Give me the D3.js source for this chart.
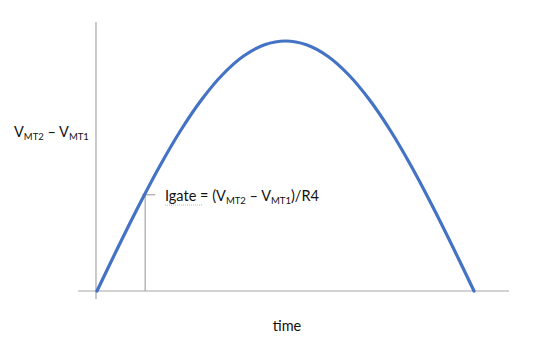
<!DOCTYPE html>
<html><head><meta charset="utf-8">
<script src="https://cdn.jsdelivr.net/npm/d3@7"></script>
<style>body{margin:0;background:#fff}svg{display:block}text{font-family:Lato,"Open Sans",sans-serif;fill:#111}</style>
</head><body><svg id="c" width="540" height="354"></svg>
<script>
// Data: time (phase, degrees) and V_MT2 - V_MT1 (relative)
const times  = [0,10,20,30,40,50,60,70,80,90,100,110,120,130,140,150,160,170,180];
const values = [0,0.174,0.342,0.5,0.643,0.766,0.866,0.94,0.985,1,0.985,0.94,0.866,0.766,0.643,0.5,0.342,0.174,0];
const markerTime = 23, markerValue = 0.385;
const yLabel = ["V","MT2"," – V","MT1"];
const xLabel = "time";

const svg = d3.select("#c");
const x = d3.scaleLinear().domain([0,180]).range([97,474]);
const y = d3.scaleLinear().domain([0,1]).range([291,41]);
const axisColor = "#a6a6a6";

// axes
svg.append("line").attr("x1",96).attr("x2",96).attr("y1",22).attr("y2",299).attr("stroke",axisColor).attr("stroke-width",1.2);
svg.append("line").attr("x1",78).attr("x2",509).attr("y1",291).attr("y2",291).attr("stroke",axisColor).attr("stroke-width",1.2);

// marker
svg.append("line").attr("x1",x(markerTime)).attr("x2",x(markerTime)).attr("y1",y(0)).attr("y2",y(markerValue)).attr("stroke",axisColor).attr("stroke-width",1.2);
svg.append("line").attr("x1",x(markerTime)-3).attr("x2",x(markerTime)+10).attr("y1",y(markerValue)).attr("y2",y(markerValue)).attr("stroke",axisColor).attr("stroke-width",1.2);

// curve
const pts = times.map((t,i)=>[t,values[i]]);
svg.append("path").datum(pts)
  .attr("d", d3.line().x(d=>x(d[0])).y(d=>y(d[1])).curve(d3.curveCatmullRom))
  .attr("fill","none").attr("stroke","#4472C4").attr("stroke-width",3.2).attr("stroke-linecap","round");

// y label
const yl = svg.append("text").attr("x",14).attr("y",137).attr("font-size",14.5);
yl.append("tspan").text("V");
yl.append("tspan").attr("font-size",9.5).attr("dy",3).text("MT2");
yl.append("tspan").attr("dy",-3).text(" – V");
yl.append("tspan").attr("font-size",9.5).attr("dy",3).text("MT1");

// igate label
const gl = svg.append("text").attr("x",165).attr("y",201).attr("font-size",14.5);
gl.append("tspan").text("Igate = (V");
gl.append("tspan").attr("font-size",9.5).attr("dy",3).text("MT2");
gl.append("tspan").attr("dy",-3).text(" – V");
gl.append("tspan").attr("font-size",9.5).attr("dy",3).text("MT1");
gl.append("tspan").attr("dy",-3).text(")/R4");
svg.append("line").attr("x1",165).attr("x2",203).attr("y1",205).attr("y2",205).attr("stroke","#c8b8a0").attr("stroke-width",1).attr("stroke-dasharray","1,1");

// x label
svg.append("text").attr("x",287).attr("y",331).attr("text-anchor","middle").attr("font-size",14.5).text(xLabel);
</script></body></html>
